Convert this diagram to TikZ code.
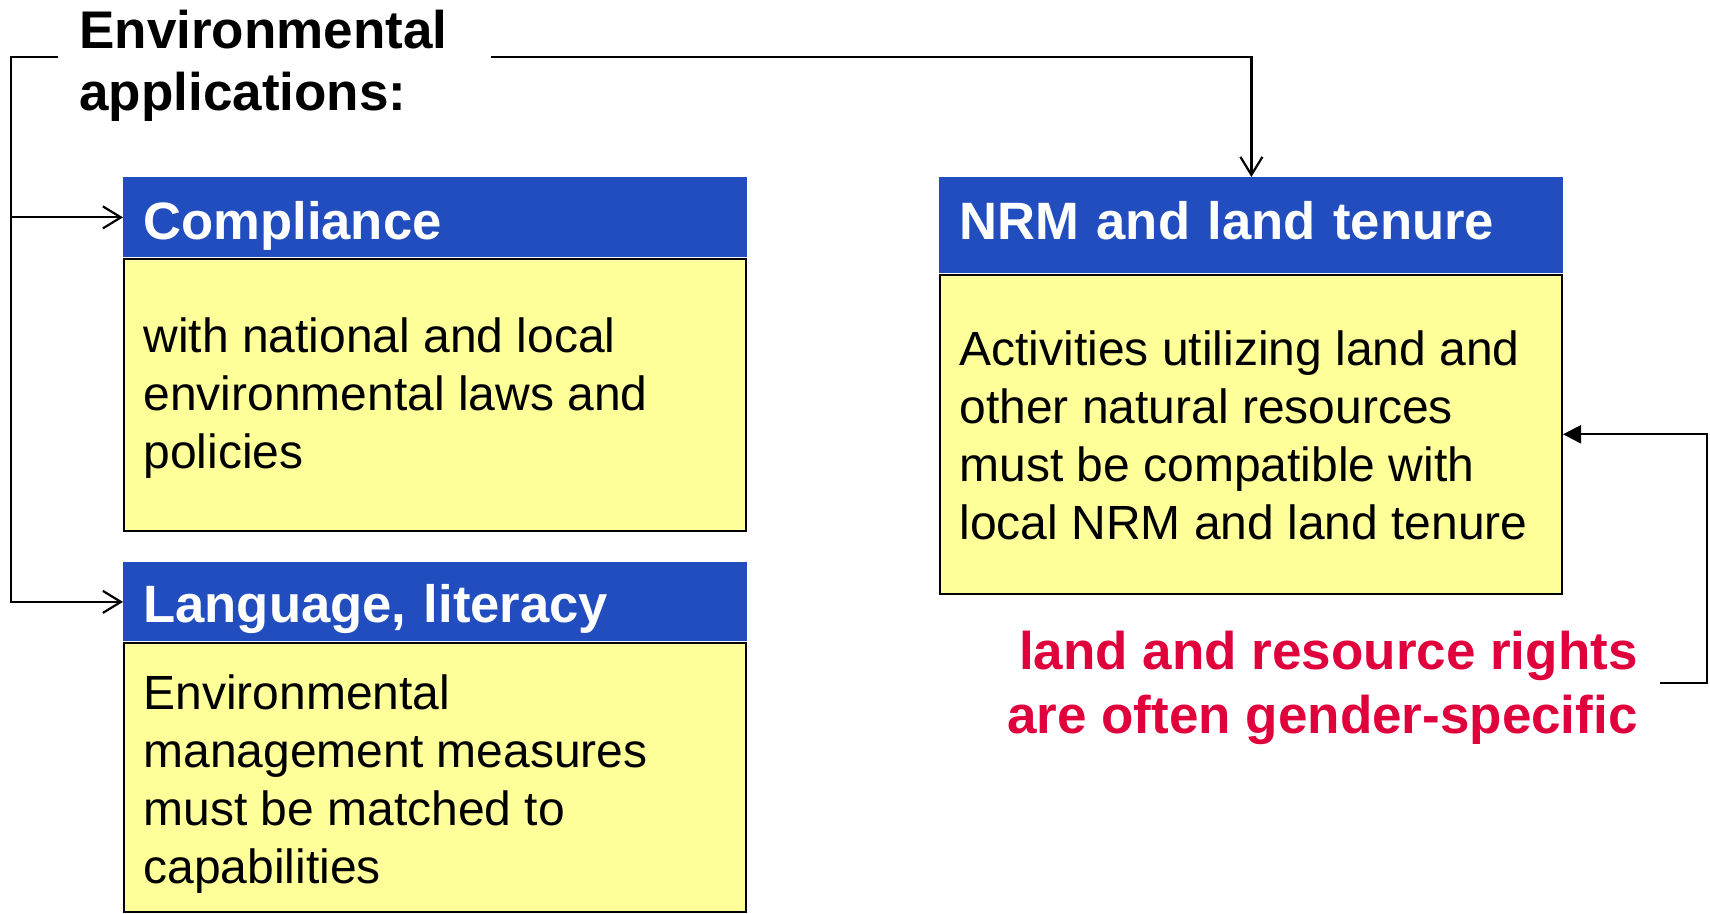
\documentclass[tikz,border=0pt]{standalone}
\usepackage{fontspec}
\setmainfont{Liberation Sans}
\usetikzlibrary{arrows.meta}
\definecolor{hdrblue}{RGB}{33,77,191}
\definecolor{bodyyellow}{RGB}{255,255,153}
\definecolor{alertred}{RGB}{224,0,60}
\newcommand{\fls}{\rule{0pt}{22pt}}
\tikzset{
  hdrbox/.style={fill=hdrblue, text=white, font=\fontsize{26.3}{31}\selectfont\bfseries,
    anchor=north west, inner xsep=10pt, inner ysep=0pt, text width=292pt, align=left},
  bodybox/.style={fill=bodyyellow, draw=black, line width=1pt, anchor=north west,
    minimum width=311pt, inner sep=0pt},
  bodytext/.style={font=\fontsize{24}{29}\selectfont, anchor=north west, inner sep=0pt, align=left},
  bigbold/.style={font=\fontsize{26.5}{31}\selectfont\bfseries, inner sep=0pt},
  conn/.style={line width=1.1pt, draw=black},
  openhead/.style={-{Straight Barb[length=9pt,width=11pt]}},
  fillhead/.style={-{Triangle[length=9pt,width=9pt]}}
}
\begin{document}
\begin{tikzpicture}[x=0.5pt,y=-0.5pt]
\useasboundingbox (0,0) rectangle (1710,914);

% title
\node[bigbold, anchor=north west, align=left] (title) at (79,4) {\fls Environmental\\applications:};

% Compliance
\node[hdrbox, text height=31pt, text depth=9pt] (comp) at (123,177) {Compliance};
\node[bodybox, minimum height=136pt] (compb) at (comp.south west) {};
\node[bodytext] (compt) at (143,308) {\fls with national and local\\environmental laws and\\policies};

% Language
\node[hdrbox, text height=30pt, text depth=9.5pt] (lang) at (123,562) {Language, literacy};
\node[bodybox, minimum height=134.5pt] (langb) at (lang.south west) {};
\node[bodytext] (langt) at (143,665) {\fls Environmental\\management measures\\must be matched to\\capabilities};

% NRM
\node[hdrbox, text height=31pt, text depth=17pt] (nrm) at (939,177) {NRM and land tenure};
\node[bodybox, minimum height=159.5pt] (nrmb) at (nrm.south west) {};
\node[bodytext] (nrmt) at (959,321) {\fls Activities utilizing land and\\other natural resources\\must be compatible with\\local NRM and land tenure};

% red note
\node[bigbold, text=alertred, anchor=north east, align=right,
  font=\fontsize{26.5}{32}\selectfont\bfseries] (gender) at (1638,625)
  {\fls land and resource rights\\are often gender-specific};

% connectors
\coordinate (lstub) at (58,57);
\coordinate (lcorner) at (11,57);
\coordinate (rstub) at (491,57);
\coordinate (gstart) at (1660,683);
\coordinate (gcorner) at (1707,683);

\draw[conn, openhead] (lstub) -- (lcorner) |- (lang.west);
\draw[conn, openhead] (lcorner |- comp.west) -- (comp.west);
\draw[conn, openhead] (rstub) -| (nrm.north);
\draw[conn, fillhead] (gstart) -- (gcorner) |- (nrmb.east);
\end{tikzpicture}
\end{document}
